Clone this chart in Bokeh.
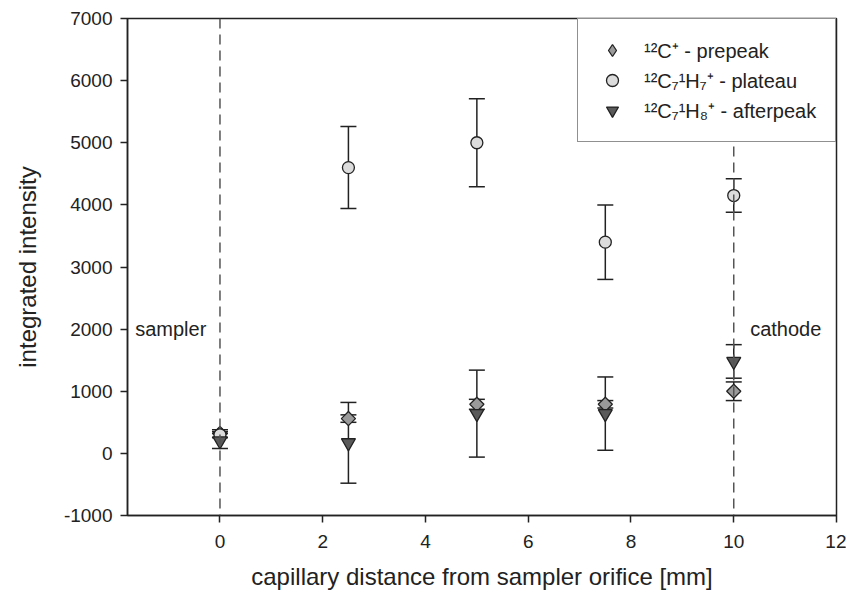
import math
from bokeh.plotting import figure
from bokeh.models import (ColumnDataSource, Whisker, TeeHead, Span, Label, Range1d,
                          FixedTicker, Legend, LegendItem, CDSView, IndexFilter)
from bokeh.embed import file_html
from bokeh.resources import INLINE

# ---- data ----
distance = [0, 2.5, 5, 7.5, 10]
prepeak = [320, 560, 790, 790, 1000]
prepeak_err = [60, 60, 80, 60, 150]
plateau = [300, 4600, 5000, 3400, 4150]
plateau_err = [50, 660, 710, 600, 270]
afterpeak = [200, 170, 640, 640, 1480]
afterpeak_err = [120, 650, 700, 590, 270]
x_ticks = [0, 2, 4, 6, 8, 10, 12]
y_ticks = [-1000, 0, 1000, 2000, 3000, 4000, 5000, 6000, 7000]
y_tick_labels = {t: str(t) for t in y_ticks}
labels = ["\u00b9\u00b2C\u207a - prepeak",
          "\u00b9\u00b2C\u2087\u00b9H\u2087\u207a - plateau",
          "\u00b9\u00b2C\u2087\u00b9H\u2088\u207a - afterpeak"]
markers = [("sampler", 0), ("cathode", 10)]

FONT = "Liberation Sans"
INK = "#222222"

p = figure(width=846, height=597, output_backend="svg", toolbar_location=None,
           x_range=Range1d(-1.8, 12), y_range=Range1d(-1000, 7000),
           min_border_left=127, min_border_right=10, min_border_top=18,
           min_border_bottom=82)
p.xgrid.visible = False
p.ygrid.visible = False
p.outline_line_color = INK
p.outline_line_width = 1.5
p.background_fill_color = "white"
p.border_fill_color = "white"

for ax in (p.xaxis[0], p.yaxis[0]):
    ax.axis_line_color = INK
    ax.axis_line_width = 1.5
    ax.major_tick_line_color = INK
    ax.major_tick_line_width = 1.5
    ax.major_tick_out = 7
    ax.major_tick_in = 0
    ax.minor_tick_line_color = None
    ax.major_label_text_font = FONT
    ax.major_label_text_font_size = "19px"
    ax.major_label_text_color = INK
    ax.axis_label_text_font = FONT
    ax.axis_label_text_font_size = "24px"
    ax.axis_label_text_font_style = "normal"
    ax.axis_label_text_color = INK

p.xaxis.ticker = FixedTicker(ticks=x_ticks)
p.yaxis.ticker = FixedTicker(ticks=y_ticks)
p.yaxis.major_label_overrides = y_tick_labels
p.xaxis.axis_label = "capillary distance from sampler orifice [mm]"
p.yaxis.axis_label = "integrated intensity"
p.xaxis.axis_label_standoff = 12
p.yaxis.axis_label_standoff = 20
p.xaxis.major_label_standoff = 12
p.yaxis.major_label_standoff = 8

# dashed reference lines and labels
for name, xv in markers:
    p.add_layout(Span(location=xv, dimension="height", line_color="#555555",
                      line_width=1.5, line_dash="10 6"))
p.add_layout(Label(x=-1.65, y=2000, text="sampler", text_font=FONT,
                   text_font_size="20px", text_color=INK, text_baseline="middle"))
p.add_layout(Label(x=10.32, y=2000, text="cathode", text_font=FONT,
                   text_font_size="20px", text_color=INK, text_baseline="middle"))

series = [
    (prepeak, prepeak_err, "square", 10, math.pi / 4, "#9a9a9a"),
    (plateau, plateau_err, "circle", 12, 0, "#dcdcdc"),
    (afterpeak, afterpeak_err, "inverted_triangle", 14, 0, "#5a5a5a"),
]
items = []
for k, ((vals, errs, mk, sz, ang, fill), lab) in enumerate(zip(series, labels)):
    src = ColumnDataSource(dict(x=distance, y=vals,
                                lo=[v - e for v, e in zip(vals, errs)],
                                hi=[v + e for v, e in zip(vals, errs)]))
    w = Whisker(source=src, base="x", lower="lo", upper="hi",
                line_color=INK, line_width=1.5,
                upper_head=TeeHead(size=16, line_color=INK, line_width=1.5),
                lower_head=TeeHead(size=16, line_color=INK, line_width=1.5))
    p.add_layout(w)
    if k == 0:
        # legend swatch (diamond); sits hidden beneath the first rotated-square marker
        leg_r = p.scatter("x", "y", source=src, view=CDSView(filter=IndexFilter([0])),
                          marker="diamond", size=9, fill_color=fill,
                          line_color=INK, line_width=1.3)
    r = p.scatter("x", "y", source=src, marker=mk, size=sz, angle=ang,
                  fill_color=fill, line_color=INK, line_width=1.3)
    items.append(LegendItem(label=lab, renderers=[leg_r if k == 0 else r]))

legend = Legend(items=items, location="top_right", margin=0, padding=16,
                spacing=0, glyph_height=30, glyph_width=36, label_standoff=14,
                label_width=175, label_height=30,
                label_text_font=FONT, label_text_font_size="20px",
                label_text_color=INK, border_line_color=INK,
                border_line_width=1.5, background_fill_alpha=1.0)
p.add_layout(legend, "center")

open("out.html", "w").write(file_html(p, INLINE))
